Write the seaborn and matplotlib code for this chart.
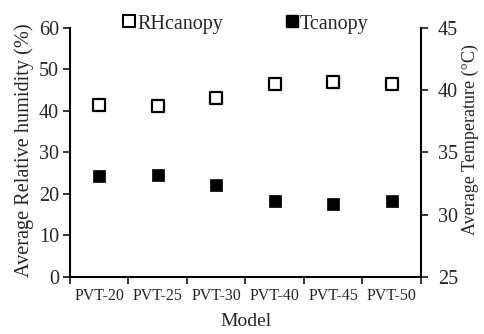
import matplotlib
matplotlib.use("Agg")
import matplotlib.pyplot as plt
from matplotlib.lines import Line2D
import seaborn as sns
import pandas as pd

models = ["PVT-20", "PVT-25", "PVT-30", "PVT-40", "PVT-45", "PVT-50"]
rh_canopy = [41.5, 41.3, 43.2, 46.5, 47.0, 46.4]
t_canopy = [33.1, 33.2, 32.4, 31.1, 30.9, 31.1]

sns.set_theme(style="ticks")
plt.rcParams["font.family"] = ["Liberation Serif", "DejaVu Serif"]
plt.rcParams["mathtext.fontset"] = "stix"

df = pd.DataFrame({"Model": models, "RH": rh_canopy, "T": t_canopy})

fig = plt.figure(figsize=(4.85, 3.34), dpi=100)
ax = fig.add_axes([0.1443, 0.1707, 0.7237, 0.7455])
ax2 = ax.twinx()

sns.scatterplot(data=df, x="Model", y="RH", ax=ax, marker="s", s=78,
                facecolor="white", edgecolor="black", linewidth=1.6, legend=False)
sns.scatterplot(data=df, x="Model", y="T", ax=ax2, marker="s", s=82,
                color="black", edgecolor="black", linewidth=0.5, legend=False)

ax.set_xlim(-0.5, len(models) - 0.5)
ax.set_ylim(0, 60)
ax.set_yticks(range(0, 61, 10))
ax2.set_ylim(25, 45)
ax2.set_yticks(range(25, 46, 5))

# category labels centred, tick marks on category boundaries
ax.set_xticks([i - 0.5 for i in range(len(models) + 1)])
ax.set_xticklabels([])
ax.set_xticks(range(len(models)), minor=True)
ax.set_xticklabels(models, minor=True)
ax.tick_params(axis="x", which="minor", length=0, pad=8, labelsize=11.5)
ax.tick_params(axis="x", which="major", length=5, width=1.3, direction="out")
ax.tick_params(axis="y", length=5, width=1.3, direction="out", labelsize=14.5, pad=3)
ax2.tick_params(axis="y", length=5, width=1.3, direction="out", labelsize=14.5, pad=7)

for a in (ax, ax2):
    a.spines["top"].set_visible(False)
    for s in ("left", "right", "bottom"):
        a.spines[s].set_linewidth(1.5)
        a.spines[s].set_color("black")
ax.spines["right"].set_visible(False)
ax2.spines["left"].set_visible(False)
ax2.spines["bottom"].set_visible(False)

ax.set_xlabel("Model", fontsize=14)
ax.xaxis.set_label_coords(0.5, -0.145)
ax.set_ylabel("Average Relative humidity (%)", fontsize=14.6)
ax.yaxis.set_label_coords(-0.103, 0.51)
ax2.set_ylabel("Average Temperature (°C)", fontsize=13)
ax2.yaxis.set_label_coords(1.117, 0.55)

handles = [
    Line2D([], [], marker="s", linestyle="none", markersize=9,
           markerfacecolor="white", markeredgecolor="black", markeredgewidth=1.5),
    Line2D([], [], marker="s", linestyle="none", markersize=9,
           markerfacecolor="black", markeredgecolor="black"),
]
fig.legend(handles, ["RHcanopy", "Tcanopy"], ncol=2, frameon=False,
           loc="center", bbox_to_anchor=(246 / 485, 1 - 24 / 334), fontsize=14.5,
           handlelength=0.6, handletextpad=0.1, columnspacing=3.1,
           borderpad=0, borderaxespad=0)

fig.savefig("out.png", dpi=100)
